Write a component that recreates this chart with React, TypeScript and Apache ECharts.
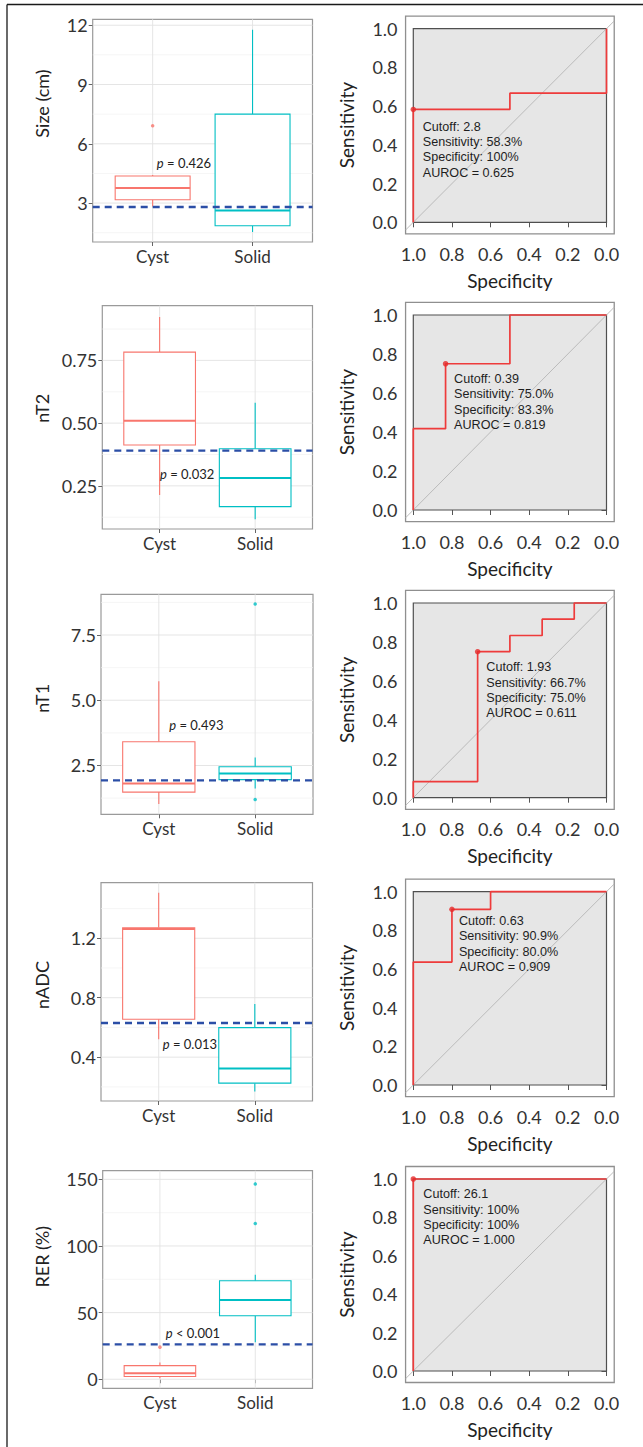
import React, { useEffect, useRef } from "react";
import * as echarts from "echarts";

const CATEGORIES = ["Cyst", "Solid"];
const CAT_COLORS = ["#F8766D", "#00BFC4"];

// Box statistics: [lower whisker, Q1, median, Q3, upper whisker]
const SIZE_BOX_CYST = [2.83, 3.17, 3.76, 4.37, 4.42];
const SIZE_BOX_SOLID = [1.53, 1.85, 2.63, 7.5, 11.77];
const SIZE_OUT_CYST = [6.91];
const SIZE_OUT_SOLID: number[] = [];
const SIZE_CUTOFF = 2.8;
const SIZE_P = ["p", " = 0.426"];
const SIZE_TICKS = [3, 6, 9, 12];
const SIZE_MINOR = [1.5, 4.5, 7.5, 10.5];
const SIZE_RANGE = [1.03, 12.3];

const NT2_BOX_CYST = [0.214, 0.413, 0.509, 0.783, 0.923];
const NT2_BOX_SOLID = [0.117, 0.167, 0.281, 0.398, 0.581];
const NT2_OUT_CYST: number[] = [];
const NT2_OUT_SOLID: number[] = [];
const NT2_CUTOFF = 0.39;
const NT2_P = ["p", " = 0.032"];
const NT2_TICKS = [0.25, 0.5, 0.75];
const NT2_MINOR = [0.125, 0.375, 0.625, 0.875];
const NT2_RANGE = [0.078, 0.968];

const NT1_BOX_CYST = [1.02, 1.48, 1.81, 3.41, 5.73];
const NT1_BOX_SOLID = [1.62, 1.96, 2.19, 2.45, 2.81];
const NT1_OUT_CYST: number[] = [];
const NT1_OUT_SOLID = [8.69, 1.2];
const NT1_CUTOFF = 1.93;
const NT1_P = ["p", " = 0.493"];
const NT1_TICKS = [2.5, 5, 7.5];
const NT1_MINOR = [1.25, 3.75, 6.25, 8.75];
const NT1_RANGE = [0.63, 9.06];

const NADC_BOX_CYST = [0.521, 0.655, 1.262, 1.271, 1.507];
const NADC_BOX_SOLID = [0.169, 0.225, 0.323, 0.599, 0.758];
const NADC_OUT_CYST: number[] = [];
const NADC_OUT_SOLID: number[] = [];
const NADC_CUTOFF = 0.63;
const NADC_P = ["p", " = 0.013"];
const NADC_TICKS = [0.4, 0.8, 1.2];
const NADC_MINOR = [0.2, 0.6, 1.0, 1.4];
const NADC_RANGE = [0.105, 1.574];

const RER_BOX_CYST = [0.8, 2.0, 4.5, 10.2, 12.5];
const RER_BOX_SOLID = [27.8, 47.6, 59.4, 73.9, 78.4];
const RER_OUT_CYST = [24.1];
const RER_OUT_SOLID = [146.6, 116.8];
const RER_CUTOFF = 26.1;
const RER_P = ["p", " < 0.001"];
const RER_TICKS = [0, 50, 100, 150];
const RER_MINOR = [25, 75, 125];
const RER_RANGE = [-6.8, 156.5];

// ROC curves (specificity, sensitivity)
const ROC_SIZE_SPEC = [1, 1, 0.5, 0.5, 0, 0];
const ROC_SIZE_SENS = [0, 0.583, 0.583, 0.667, 0.667, 1];
const ROC_SIZE_BEST = [1, 0.583];
const ROC_SIZE_TEXT = ["Cutoff: 2.8", "Sensitivity: 58.3%", "Specificity: 100%", "AUROC = 0.625"];

const ROC_NT2_SPEC = [1, 1, 0.833, 0.833, 0.5, 0.5, 0];
const ROC_NT2_SENS = [0, 0.417, 0.417, 0.75, 0.75, 1, 1];
const ROC_NT2_BEST = [0.833, 0.75];
const ROC_NT2_TEXT = ["Cutoff: 0.39", "Sensitivity: 75.0%", "Specificity: 83.3%", "AUROC = 0.819"];

const ROC_NT1_SPEC = [1, 1, 0.667, 0.667, 0.5, 0.5, 0.333, 0.333, 0.167, 0.167, 0];
const ROC_NT1_SENS = [0, 0.083, 0.083, 0.75, 0.75, 0.833, 0.833, 0.917, 0.917, 1, 1];
const ROC_NT1_BEST = [0.667, 0.75];
const ROC_NT1_TEXT = ["Cutoff: 1.93", "Sensitivity: 66.7%", "Specificity: 75.0%", "AUROC = 0.611"];

const ROC_NADC_SPEC = [1, 1, 0.8, 0.8, 0.6, 0.6, 0];
const ROC_NADC_SENS = [0, 0.636, 0.636, 0.909, 0.909, 1, 1];
const ROC_NADC_BEST = [0.8, 0.909];
const ROC_NADC_TEXT = ["Cutoff: 0.63", "Sensitivity: 90.9%", "Specificity: 80.0%", "AUROC = 0.909"];

const ROC_RER_SPEC = [1, 1, 0];
const ROC_RER_SENS = [0, 1, 1];
const ROC_RER_BEST = [1, 1];
const ROC_RER_TEXT = ["Cutoff: 26.1", "Sensitivity: 100%", "Specificity: 100%", "AUROC = 1.000"];

const ROC_TICKS = [0, 0.2, 0.4, 0.6, 0.8, 1];

const BOX_PANELS = [
  { title: "Size (cm)", cyst: SIZE_BOX_CYST, solid: SIZE_BOX_SOLID, outCyst: SIZE_OUT_CYST, outSolid: SIZE_OUT_SOLID, cutoff: SIZE_CUTOFF, p: SIZE_P, ticks: SIZE_TICKS, minor: SIZE_MINOR, range: SIZE_RANGE, dec: 0 },
  { title: "nT2", cyst: NT2_BOX_CYST, solid: NT2_BOX_SOLID, outCyst: NT2_OUT_CYST, outSolid: NT2_OUT_SOLID, cutoff: NT2_CUTOFF, p: NT2_P, ticks: NT2_TICKS, minor: NT2_MINOR, range: NT2_RANGE, dec: 2 },
  { title: "nT1", cyst: NT1_BOX_CYST, solid: NT1_BOX_SOLID, outCyst: NT1_OUT_CYST, outSolid: NT1_OUT_SOLID, cutoff: NT1_CUTOFF, p: NT1_P, ticks: NT1_TICKS, minor: NT1_MINOR, range: NT1_RANGE, dec: 1 },
  { title: "nADC", cyst: NADC_BOX_CYST, solid: NADC_BOX_SOLID, outCyst: NADC_OUT_CYST, outSolid: NADC_OUT_SOLID, cutoff: NADC_CUTOFF, p: NADC_P, ticks: NADC_TICKS, minor: NADC_MINOR, range: NADC_RANGE, dec: 1 },
  { title: "RER (%)", cyst: RER_BOX_CYST, solid: RER_BOX_SOLID, outCyst: RER_OUT_CYST, outSolid: RER_OUT_SOLID, cutoff: RER_CUTOFF, p: RER_P, ticks: RER_TICKS, minor: RER_MINOR, range: RER_RANGE, dec: 0 },
];

const ROC_PANELS = [
  { spec: ROC_SIZE_SPEC, sens: ROC_SIZE_SENS, best: ROC_SIZE_BEST, text: ROC_SIZE_TEXT },
  { spec: ROC_NT2_SPEC, sens: ROC_NT2_SENS, best: ROC_NT2_BEST, text: ROC_NT2_TEXT },
  { spec: ROC_NT1_SPEC, sens: ROC_NT1_SENS, best: ROC_NT1_BEST, text: ROC_NT1_TEXT },
  { spec: ROC_NADC_SPEC, sens: ROC_NADC_SENS, best: ROC_NADC_BEST, text: ROC_NADC_TEXT },
  { spec: ROC_RER_SPEC, sens: ROC_RER_SENS, best: ROC_RER_BEST, text: ROC_RER_TEXT },
];

// Layout (pixels) and annotation anchors (data coordinates)
const BOX_LAYOUT = [
  { left: 92.7, top: 19.3, right: 312.5, bottom: 242, pAt: [1.042, 5.05], titleY: 103.5 },
  { left: 102.3, top: 305.7, right: 312.5, bottom: 529, pAt: [1.004, 0.297], titleY: 408.3 },
  { left: 101, top: 594.3, right: 313, bottom: 814.3, pAt: [1.108, 4.07], titleY: 698.3 },
  { left: 101, top: 882.7, right: 312.5, bottom: 1101, pAt: [1.042, 0.489], titleY: 985 },
  { left: 102.7, top: 1170.7, right: 312.5, bottom: 1388.3, pAt: [1.061, 34.6], titleY: 1256.7 },
];
const BOX_TITLE_X = 42;
const ROC_X_INNER = [413.3, 606.5];
const ROC_LAYOUT = [
  { innerTop: 28.7, innerBottom: 222.3, textAt: [0.951, 0.494] },
  { innerTop: 315, innerBottom: 510, textAt: [0.789, 0.672] },
  { innerTop: 603, innerBottom: 797.7, textAt: [0.622, 0.67] },
  { innerTop: 891.7, innerBottom: 1085, textAt: [0.764, 0.848] },
  { innerTop: 1179, innerBottom: 1371, textAt: [0.948, 0.92] },
];
const X_RANGE = [0.4, 2.6];
const ROC_XR = [-0.04, 1.04];
const ROC_YR = [-0.06, 1.065];

const FONT = "Lato, 'Noto Sans', sans-serif";
const TXT = "#333333";

function buildOption() {
  const grid: any[] = [];
  const xAxis: any[] = [];
  const yAxis: any[] = [];
  const series: any[] = [];
  const graphic: any[] = [
    { type: "line", shape: { x1: 7, y1: 4.5, x2: 643, y2: 4.5 }, style: { stroke: "#1a1a1a", lineWidth: 1.3 }, silent: true },
    { type: "line", shape: { x1: 7, y1: 4.5, x2: 7, y2: 1447 }, style: { stroke: "#1a1a1a", lineWidth: 1.3 }, silent: true },
  ];

  BOX_PANELS.forEach((p, i) => {
    const L = BOX_LAYOUT[i];
    grid.push({
      left: L.left, top: L.top, width: L.right - L.left, height: L.bottom - L.top,
      show: true, borderColor: "#9a9a9a", borderWidth: 1.2, backgroundColor: "#ffffff",
      containLabel: false, outerBoundsMode: "none",
    });
    xAxis.push({
      gridIndex: i, type: "value", min: X_RANGE[0], max: X_RANGE[1],
      axisLine: { show: false }, splitLine: { show: false },
      axisTick: { show: true, customValues: [1, 2], length: 4, lineStyle: { color: "#666", width: 1 } },
      axisLabel: { customValues: [1, 2], formatter: (v: number) => CATEGORIES[Math.round(v) - 1], fontFamily: FONT, fontSize: 17, fontWeight: "normal", color: TXT, margin: 6 },
    });
    yAxis.push({
      gridIndex: i, type: "value", min: p.range[0], max: p.range[1],
      axisLine: { show: false }, splitLine: { show: false },
      axisTick: { show: true, customValues: p.ticks, length: 4, lineStyle: { color: "#666", width: 1 } },
      axisLabel: { customValues: p.ticks, formatter: (v: number) => v.toFixed(p.dec), fontFamily: FONT, fontSize: 18, fontWeight: "normal", color: TXT, margin: 5 },
    });
    graphic.push({
      type: "text", x: BOX_TITLE_X, y: L.titleY, rotation: Math.PI / 2, silent: true,
      style: { text: p.title, fontFamily: FONT, fontSize: 18, fontWeight: "normal", fill: "#222", align: "center", verticalAlign: "middle" },
    });
    // minor horizontal grid
    series.push({
      type: "custom", xAxisIndex: i, yAxisIndex: i, z: 1, silent: true,
      data: p.minor.map((v) => [1, v]),
      renderItem: (params: any, api: any) => {
        const cs = params.coordSys;
        const y = api.coord([1, api.value(1)])[1];
        return { type: "line", shape: { x1: cs.x, y1: y, x2: cs.x + cs.width, y2: y }, style: { stroke: "#f1f1f1", lineWidth: 0.7 } };
      },
    });
    // major horizontal grid
    series.push({
      type: "custom", xAxisIndex: i, yAxisIndex: i, z: 1, silent: true,
      data: p.ticks.map((v) => [1, v]),
      renderItem: (params: any, api: any) => {
        const cs = params.coordSys;
        const y = api.coord([1, api.value(1)])[1];
        return { type: "line", shape: { x1: cs.x, y1: y, x2: cs.x + cs.width, y2: y }, style: { stroke: "#e2e2e2", lineWidth: 0.9 } };
      },
    });
    // vertical grid at categories
    series.push({
      type: "custom", xAxisIndex: i, yAxisIndex: i, z: 1, silent: true,
      data: CATEGORIES.map((_, k) => [k + 1, p.range[0]]),
      renderItem: (params: any, api: any) => {
        const cs = params.coordSys;
        const x = api.coord([api.value(0), p.range[0]])[0];
        return { type: "line", shape: { x1: x, y1: cs.y, x2: x, y2: cs.y + cs.height }, style: { stroke: "#e2e2e2", lineWidth: 0.9 } };
      },
    });
    // boxes
    series.push({
      type: "custom", xAxisIndex: i, yAxisIndex: i, z: 2, silent: true,
      data: [[1, ...p.cyst], [2, ...p.solid]],
      renderItem: (params: any, api: any) => {
        const x = api.value(0);
        const lo = api.value(1), q1 = api.value(2), med = api.value(3), q3 = api.value(4), hi = api.value(5);
        const color = CAT_COLORS[params.dataIndex];
        const pLo = api.coord([x, lo]);
        const pQ1 = api.coord([x, q1]);
        const pMed = api.coord([x, med]);
        const pQ3 = api.coord([x, q3]);
        const pHi = api.coord([x, hi]);
        const l = api.coord([x - 0.375, q3])[0];
        const r = api.coord([x + 0.375, q3])[0];
        return {
          type: "group",
          children: [
            { type: "line", shape: { x1: pLo[0], y1: pLo[1], x2: pQ1[0], y2: pQ1[1] }, style: { stroke: color, lineWidth: 1.1 } },
            { type: "line", shape: { x1: pQ3[0], y1: pQ3[1], x2: pHi[0], y2: pHi[1] }, style: { stroke: color, lineWidth: 1.1 } },
            { type: "rect", shape: { x: l, y: pQ3[1], width: r - l, height: pQ1[1] - pQ3[1] }, style: { fill: "#ffffff", stroke: color, lineWidth: 1.1 } },
            { type: "line", shape: { x1: l, y1: pMed[1], x2: r, y2: pMed[1] }, style: { stroke: color, lineWidth: 2 } },
          ],
        };
      },
    });
    // outliers
    [p.outCyst, p.outSolid].forEach((arr, k) => {
      if (!arr.length) return;
      series.push({
        type: "scatter", xAxisIndex: i, yAxisIndex: i, z: 3, silent: true,
        symbol: "circle", symbolSize: 3.5, itemStyle: { color: CAT_COLORS[k] },
        data: arr.map((v) => [k + 1, v]),
      });
    });
    // cutoff line
    series.push({
      type: "line", xAxisIndex: i, yAxisIndex: i, z: 4, silent: true, showSymbol: false, symbol: "none",
      data: [[X_RANGE[0], p.cutoff], [X_RANGE[1], p.cutoff]],
      lineStyle: { color: "#2b4ea6", width: 2.3, type: [7, 5] },
    });
    // p value annotation
    series.push({
      type: "custom", xAxisIndex: i, yAxisIndex: i, z: 5, silent: true,
      data: [L.pAt],
      renderItem: (params: any, api: any) => {
        const pt = api.coord([api.value(0), api.value(1)]);
        return {
          type: "text", x: pt[0], y: pt[1],
          style: {
            text: "{i|" + p.p[0] + "}" + p.p[1],
            fontFamily: FONT, fontSize: 13, fill: "#222", align: "left", verticalAlign: "middle",
            rich: { i: { fontFamily: FONT, fontSize: 13, fontStyle: "italic", fill: "#222" } },
          },
        };
      },
    });
  });

  ROC_PANELS.forEach((r, j) => {
    const i = j + 5;
    const L = ROC_LAYOUT[j];
    const xUnit = ROC_X_INNER[1] - ROC_X_INNER[0];
    const yUnit = L.innerBottom - L.innerTop;
    const gLeft = ROC_X_INNER[0] + ROC_XR[0] * xUnit;
    const gTop = L.innerTop - (ROC_YR[1] - 1) * yUnit;
    grid.push({
      left: gLeft, top: gTop, width: (ROC_XR[1] - ROC_XR[0]) * xUnit, height: (ROC_YR[1] - ROC_YR[0]) * yUnit,
      show: true, borderColor: "#8f8f8f", borderWidth: 1.3, backgroundColor: "#ffffff",
      containLabel: false, outerBoundsMode: "none",
    });
    xAxis.push({
      gridIndex: i, type: "value", inverse: true, min: ROC_XR[0], max: ROC_XR[1],
      axisLine: { show: false }, splitLine: { show: false },
      axisTick: { show: true, customValues: ROC_TICKS, length: 5, lineStyle: { color: "#555", width: 1 } },
      axisLabel: { customValues: ROC_TICKS, formatter: (v: number) => v.toFixed(1), fontFamily: FONT, fontSize: 18, fontWeight: "normal", color: TXT, margin: 11 },
      name: "Specificity", nameLocation: "middle", nameGap: 37,
      nameTextStyle: { fontFamily: FONT, fontSize: 19, fontWeight: "normal", color: "#222" },
    });
    yAxis.push({
      gridIndex: i, type: "value", min: ROC_YR[0], max: ROC_YR[1],
      axisLine: { show: false }, splitLine: { show: false },
      axisTick: { show: true, customValues: ROC_TICKS, length: 5, lineStyle: { color: "#555", width: 1 } },
      axisLabel: { customValues: ROC_TICKS, formatter: (v: number) => v.toFixed(1), fontFamily: FONT, fontSize: 18, fontWeight: "normal", color: TXT, margin: 8 },
      name: "Sensitivity", nameLocation: "middle", nameGap: 50,
      nameTextStyle: { fontFamily: FONT, fontSize: 19, fontWeight: "normal", color: "#222" },
    });
    // inner plotting rectangle
    series.push({
      type: "custom", xAxisIndex: i, yAxisIndex: i, z: 1, silent: true,
      data: [[1, 1, 0, 0]],
      renderItem: (params: any, api: any) => {
        const a = api.coord([api.value(0), api.value(1)]);
        const b = api.coord([api.value(2), api.value(3)]);
        return { type: "rect", shape: { x: a[0], y: a[1], width: b[0] - a[0], height: b[1] - a[1] }, style: { fill: "#e6e6e6", stroke: "#4f4f4f", lineWidth: 1.2 } };
      },
    });
    // diagonal reference
    series.push({
      type: "line", xAxisIndex: i, yAxisIndex: i, z: 2, silent: true, showSymbol: false, symbol: "none",
      data: [[ROC_XR[1], 1 - ROC_XR[1]], [ROC_XR[0], 1 - ROC_XR[0]]],
      lineStyle: { color: "#b5b5b5", width: 0.9 },
    });
    // ROC curve
    series.push({
      type: "line", xAxisIndex: i, yAxisIndex: i, z: 3, silent: true, showSymbol: false, symbol: "none",
      data: r.spec.map((s, k) => [s, r.sens[k]]),
      lineStyle: { color: "#ee3b3b", width: 1.7 },
    });
    series.push({
      type: "scatter", xAxisIndex: i, yAxisIndex: i, z: 4, silent: true,
      symbol: "circle", symbolSize: 5.5, itemStyle: { color: "#e52a2a" },
      data: [r.best],
    });
    // annotation text
    series.push({
      type: "custom", xAxisIndex: i, yAxisIndex: i, z: 5, silent: true,
      data: [L.textAt],
      renderItem: (params: any, api: any) => {
        const pt = api.coord([api.value(0), api.value(1)]);
        return {
          type: "text", x: pt[0], y: pt[1] - 7.6,
          style: {
            text: r.text.join("\n"), fontFamily: "'Liberation Sans', Arial, sans-serif", fontSize: 12.6,
            lineHeight: 15.3, fill: "#1e1e1e", align: "left", verticalAlign: "top",
          },
        };
      },
    });
  });

  return {
    animation: false,
    backgroundColor: "#ffffff",
    grid, xAxis, yAxis, series, graphic,
  };
}

export default function App() {
  const ref = useRef<HTMLDivElement>(null);
  useEffect(() => {
    if (!ref.current) return;
    const chart = echarts.init(ref.current, null, { renderer: "svg" });
    chart.setOption(buildOption() as any);
    return () => chart.dispose();
  }, []);
  return <div ref={ref} style={{ position: "absolute", left: 0, top: 0, width: 643, height: 1447 }} />;
}
